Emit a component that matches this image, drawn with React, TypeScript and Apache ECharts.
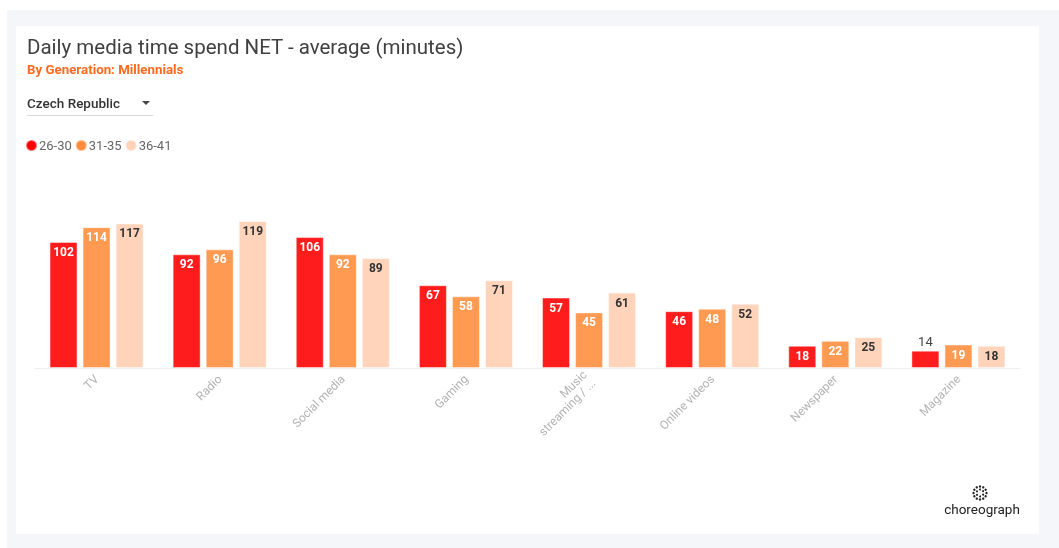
import React, { useEffect, useRef } from "react";
import * as echarts from "echarts";

const categories = ["TV", "Radio", "Social media", "Gaming", "Music streaming / audio", "Online videos", "Newspaper", "Magazine"];
const axisLabels = ["TV", "Radio", "Social media", "Gaming", "Music\nstreaming / ...", "Online videos", "Newspaper", "Magazine"];
const seriesNames = ["26-30", "31-35", "36-41"];
const age26to30 = [102, 92, 106, 67, 57, 46, 18, 14];
const age31to35 = [114, 96, 92, 58, 45, 48, 22, 19];
const age36to41 = [117, 119, 89, 71, 61, 52, 25, 18];

const colors = ["#ff1c1c", "#ff9a52", "#ffd4bb"];
const legendColors = ["#ff0000", "#ff8c3c", "#ffd1b8"];
const labelColors = ["#ffffff", "#ffffff", "#333333"];

export default function App() {
  const ref = useRef<HTMLDivElement>(null);
  useEffect(() => {
    if (!ref.current) return;
    const chart = echarts.init(ref.current, undefined, { renderer: "svg" });
    const all = [age26to30, age31to35, age36to41];
    const dots: any[] = [];
    for (let i = 0; i < 12; i++) {
      const a = (i / 12) * Math.PI * 2;
      dots.push({ type: "circle", shape: { cx: 980 + Math.cos(a) * 6.5, cy: 493 + Math.sin(a) * 6.5, r: 1.2 }, style: { fill: "#222" } });
    }
    for (let i = 0; i < 6; i++) {
      const a = (i / 6) * Math.PI * 2 + 0.5;
      dots.push({ type: "circle", shape: { cx: 980 + Math.cos(a) * 3.5, cy: 493 + Math.sin(a) * 3.5, r: 1 }, style: { fill: "#222" } });
    }
    chart.setOption({
      animation: false,
      textStyle: { fontFamily: "Roboto" },
      graphic: [
        { type: "rect", z: -10, shape: { x: 7, y: 10, width: 1052, height: 538 }, style: { fill: "#f5f6fa" } },
        { type: "rect", z: -9, shape: { x: 16, y: 26, width: 1023, height: 508 }, style: { fill: "#ffffff" } },
        { type: "text", x: 27, y: 47, style: { text: "Daily media time spend NET - average (minutes)", fill: "#404040", fontSize: 20.5, fontFamily: "Roboto", fontWeight: 400, textVerticalAlign: "middle" } },
        { type: "text", x: 27, y: 69, style: { text: "By Generation: Millennials", fill: "#ff6a1f", fontSize: 13.3, fontWeight: "bold", fontFamily: "Roboto", textVerticalAlign: "middle" } },
        { type: "text", x: 27, y: 103, style: { text: "Czech Republic", fill: "#333333", fontSize: 13.5, fontWeight: 500, fontFamily: "Roboto", textVerticalAlign: "middle" } },
        { type: "polygon", shape: { points: [[142, 101], [150, 101], [146, 105]] }, style: { fill: "#444" } },
        { type: "line", shape: { x1: 27, y1: 115.5, x2: 153, y2: 115.5 }, style: { stroke: "#d8d8d8", lineWidth: 1 } },
        ...dots,
        { type: "text", x: 982, y: 509, style: { text: "choreograph", fill: "#222", fontSize: 13.5, fontFamily: "Roboto", textAlign: "center", textVerticalAlign: "middle" } },
      ],
      legend: {
        left: 25,
        top: 139,
        padding: 0,
        icon: "circle",
        itemWidth: 11,
        itemHeight: 11,
        itemGap: 3,
        textStyle: { color: "#666", fontSize: 13, padding: [0, 0, 0, -3] },
        data: seriesNames.map((n, i) => ({ name: n, itemStyle: { color: legendColors[i] } })),
      },
      grid: { left: 35, right: 39, top: 195, bottom: 180 },
      xAxis: {
        type: "category",
        data: categories,
        axisLine: { lineStyle: { color: "#eeeeee" } },
        axisTick: { alignWithLabel: true, length: 5, lineStyle: { color: "#e6e6e6" } },
        axisLabel: {
          rotate: 45,
          interval: 0,
          color: "#b3b3b3",
          fontSize: 12,
          margin: 9,
          formatter: (v: string) => axisLabels[categories.indexOf(v)],
        },
      },
      yAxis: { type: "value", min: 0, max: 140, show: false, splitLine: { show: false } },
      series: all.map((vals, si) => ({
        name: seriesNames[si],
        type: "bar",
        barWidth: 28,
        barGap: "18%",
        itemStyle: { color: colors[si], borderColor: "rgba(255,255,255,0.45)", borderWidth: 1 },
        label: {
          show: true,
          position: "insideTop",
          distance: 4,
          color: labelColors[si],
          fontSize: 12,
          fontWeight: "bold",
          fontFamily: "Roboto",
        },
        data: vals.map((v) =>
          v < 15 ? { value: v, label: { position: "top", color: "#444", fontWeight: "normal", fontSize: 13, distance: 3 } } : v
        ),
      })),
    });
    return () => chart.dispose();
  }, []);
  return <div ref={ref} style={{ position: "fixed", left: 0, top: 0, width: 1059, height: 548 }} />;
}
